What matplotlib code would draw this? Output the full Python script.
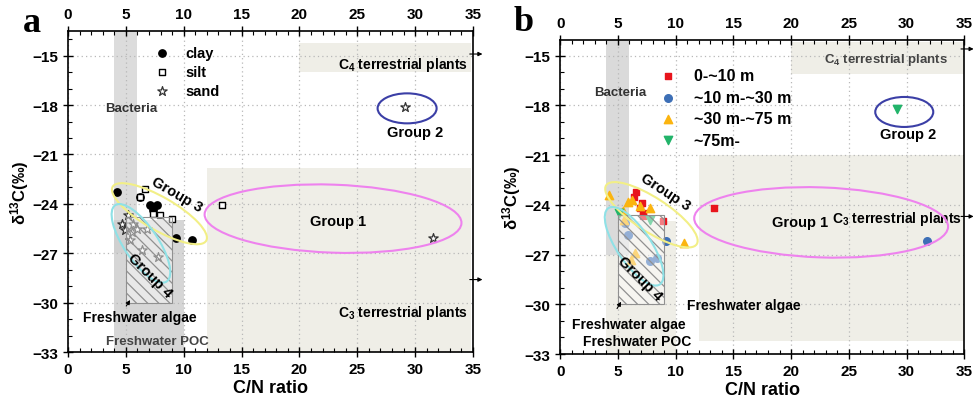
import matplotlib
matplotlib.use("Agg")
import matplotlib.pyplot as plt
from matplotlib.patches import Rectangle, Ellipse
from matplotlib.transforms import ScaledTranslation
from matplotlib.ticker import MultipleLocator

plt.rcParams["font.family"] = ["Liberation Sans", "DejaVu Sans"]
plt.rcParams["font.weight"] = "bold"
plt.rcParams["mathtext.fontset"] = "custom"
plt.rcParams["mathtext.rm"] = "Liberation Sans:bold"
plt.rcParams["mathtext.it"] = "Liberation Sans:bold"
plt.rcParams["mathtext.bf"] = "Liberation Sans:bold"
plt.rcParams["mathtext.default"] = "rm"
plt.rcParams["hatch.linewidth"] = 0.9

# panel a: grain size fractions (C/N ratio, d13C)
clay_cn = [4.2, 6.2, 7.1, 7.7, 7.3, 9.3, 10.7]
clay_d13c = [-23.3, -23.6, -24.1, -24.1, -24.4, -26.1, -26.2]
silt_cn = [6.65, 6.2, 7.3, 7.95, 9.0, 13.3]
silt_d13c = [-23.1, -23.6, -24.6, -24.7, -24.9, -24.1]
sand_cn = [4.65, 5.2, 5.6, 4.9, 5.5, 5.95, 6.8, 5.35, 6.4, 7.8, 29.1, 31.5]
sand_d13c = [-25.2, -24.7, -25.2, -25.6, -25.7, -25.5, -25.5, -26.2, -26.8, -27.2, -18.1, -26.1]

# panel b: water depth classes
d0_cn = [6.6, 6.4, 7.1, 6.9, 7.2, 7.2, 8.9, 13.3]
d0_d13c = [-23.2, -23.5, -23.9, -24.2, -24.5, -24.7, -25.0, -24.2]
d10_cn = [5.6, 5.9, 9.2, 8.4, 7.8, 31.8]
d10_d13c = [-25.1, -25.8, -26.2, -27.2, -27.4, -26.2]
d30_cn = [4.2, 5.9, 6.2, 6.9, 7.8, 5.4, 5.5, 10.7, 6.5, 6.1]
d30_d13c = [-23.4, -23.8, -23.7, -24.1, -24.2, -24.4, -24.9, -26.3, -26.9, -27.3]
d75_cn = [5.1, 7.8, 29.2]
d75_d13c = [-24.5, -24.9, -18.2]

xticks = [0, 5, 10, 15, 20, 25, 30, 35]
yticks = [-33, -30, -27, -24, -21, -18, -15]

beige = "#efeee7"

fig = plt.figure(figsize=(9.76, 4.1), dpi=100)
ax_a = fig.add_axes([0.0697, 0.139, 0.415, 0.783])
ax_b = fig.add_axes([0.574, 0.134, 0.414, 0.766])


def ellipse(ax, cx, cy, w_px, h_px, angle, color):
    tr = fig.dpi_scale_trans + ScaledTranslation(cx, cy, ax.transData)
    e = Ellipse((0, 0), w_px / 100, h_px / 100, angle=angle, transform=tr,
                fill=False, edgecolor=color, lw=1.5, zorder=4)
    ax.add_patch(e)


def setup(ax, ytop):
    ax.set_xlim(0, 35)
    ax.set_ylim(-33, ytop)
    ax.set_xticks(xticks)
    ax.set_yticks(yticks)
    ax.xaxis.set_minor_locator(MultipleLocator(1))
    ax.yaxis.set_minor_locator(MultipleLocator(1))
    ax.tick_params(which="major", direction="inout", length=7, width=1,
                   labelsize=11, top=True, labeltop=True, right=False)
    ax.tick_params(which="minor", direction="in", length=3, width=0.8,
                   top=True, right=False)
    for lab in ax.get_xticklabels() + ax.get_yticklabels():
        lab.set_fontweight("bold")
    ax.grid(True, which="major", ls=(0, (1, 2.5)), color="#b8b8b8", lw=0.9)
    ax.set_axisbelow(True)
    for s in ax.spines.values():
        s.set_linewidth(1.2)
    ax.set_xlabel("C/N ratio", fontsize=13, fontweight="bold", labelpad=2)
    ax.set_ylabel("δ$^{13}$C(‰)", fontsize=12, fontweight="bold", labelpad=1)


def side_arrow(ax, y):
    ax.annotate("", xy=(1.03, y), xycoords=("axes fraction", "data"),
                xytext=(0.985, y), textcoords=("axes fraction", "data"),
                arrowprops=dict(arrowstyle="-|>", color="k", lw=0.8,
                                mutation_scale=6), annotation_clip=False)


# ---------------- panel a ----------------
ax = ax_a
setup(ax, -13.5)
ax.add_patch(Rectangle((4, -27), 2, 13.5, color="#dcdcdc", lw=0, zorder=0.2))
ax.add_patch(Rectangle((4, -33), 6, 8, color="#cfcfcf", alpha=0.85, lw=0, zorder=0.2))
ax.add_patch(Rectangle((12, -33), 22.8, 11.2, color=beige, lw=0, zorder=0.2))
ax.add_patch(Rectangle((20, -16), 14.8, 1.8, color=beige, lw=0, zorder=0.2))
ax.add_patch(Rectangle((5, -30), 4, 5.2, facecolor=(1, 1, 1, 0.45),
                       edgecolor="#909090", hatch="\\\\\\", lw=0.8, zorder=3))

h1 = ax.scatter(clay_cn, clay_d13c, marker="o", s=28, color="k", zorder=2)
h2 = ax.scatter(silt_cn, silt_d13c, marker="s", s=20, facecolor="white",
                edgecolor="k", lw=1, zorder=2)
h3 = ax.scatter(sand_cn, sand_d13c, marker="*", s=50, facecolor="white",
                edgecolor="#333333", lw=0.9, zorder=2)
ax.legend([h1, h2, h3], ["clay", "silt", "sand"], loc="upper left",
          bbox_to_anchor=(0.17, 0.985), frameon=False,
          handletextpad=0.6, labelspacing=0.35, borderpad=0.2,
          prop={"weight": "bold", "size": 10.5})

ellipse(ax, 7.9, -24.6, 108, 33, -30, "#f2ef86")
ellipse(ax, 6.3, -26.4, 92, 34, -56, "#8fe1e6")
ellipse(ax, 22.9, -24.9, 257, 68, -2, "#ee82ee")
ellipse(ax, 29.3, -18.2, 59, 30, 0, "#3b3fa6")

ax.text(5.5, -18.2, "Bacteria", fontsize=9.5, color="#333333", ha="center", va="center")
ax.text(9.4, -23.4, "Group 3", fontsize=10.5, rotation=-30, ha="center", va="center", zorder=5)
ax.text(7.1, -28.3, "Group 4", fontsize=10.5, rotation=-45, ha="center", va="center", zorder=5)
ax.text(23.3, -25.06, "Group 1", fontsize=10.5, ha="center", va="center")
ax.text(30.0, -19.65, "Group 2", fontsize=10.5, ha="center", va="center")
ax.text(34.6, -15.5, "C$_4$ terrestrial plants", fontsize=10, ha="right", va="center")
ax.text(34.6, -30.6, "C$_3$ terrestrial plants", fontsize=10, ha="right", va="center")
ax.text(6.2, -30.9, "Freshwater algae", fontsize=10, ha="center", va="center", zorder=5)
ax.text(7.7, -32.35, "Freshwater POC", fontsize=9.5, color="#444444", ha="center", va="center")
ax.annotate("", xy=(5.5, -29.7), xytext=(4.9, -30.35),
            arrowprops=dict(arrowstyle="-|>", color="k", lw=0.8, mutation_scale=6))
side_arrow(ax, -14.9)
side_arrow(ax, -28.6)
ax.text(-0.09, 1.025, "a", transform=ax.transAxes, fontsize=26, fontweight="bold",
        family="Liberation Serif", ha="center", va="center")

# ---------------- panel b ----------------
ax = ax_b
setup(ax, -14.06)
ax.add_patch(Rectangle((4, -27), 2, 13, color="#dadada", lw=0, zorder=0.2))
ax.add_patch(Rectangle((4, -33), 6, 8, color=beige, lw=0, zorder=0.1))
ax.add_patch(Rectangle((12, -32.2), 23, 11.2, color=beige, lw=0, zorder=0.2))
ax.add_patch(Rectangle((20, -16.1), 15, 1.9, color=beige, lw=0, zorder=0.2))
ax.add_patch(Rectangle((5, -30), 4, 5.4, facecolor=(1, 1, 1, 0.45),
                       edgecolor="#909090", hatch="\\\\\\", lw=0.8, zorder=3))

g1 = ax.scatter(d0_cn, d0_d13c, marker="s", s=24, color="#e8141c", zorder=2)
g2 = ax.scatter(d10_cn, d10_d13c, marker="o", s=30, color="#3d6fb6", zorder=2)
g3 = ax.scatter(d30_cn, d30_d13c, marker="^", s=36, color="#fbb40f", zorder=2)
g4 = ax.scatter(d75_cn, d75_d13c, marker="v", s=36, color="#22b46a", zorder=2)
ax.legend([g1, g2, g3, g4], ["0-~10 m", "~10 m-~30 m", "~30 m-~75 m", "~75m-"],
          loc="upper left", bbox_to_anchor=(0.2, 0.945), frameon=False,
          handletextpad=0.6, labelspacing=0.4, borderpad=0.2,
          prop={"weight": "bold", "size": 11.5})

ellipse(ax, 7.9, -24.6, 108, 34, -33, "#f2ef86")
ellipse(ax, 6.4, -26.5, 92, 34, -56, "#8fe1e6")
ellipse(ax, 22.6, -25.06, 254, 70, -2, "#ee82ee")
ellipse(ax, 29.8, -18.4, 58, 30, 0, "#3b3fa6")

ax.text(5.2, -17.2, "Bacteria", fontsize=9.5, color="#333333", ha="center", va="center")
ax.text(9.1, -23.2, "Group 3", fontsize=10.5, rotation=-33, ha="center", va="center", zorder=5)
ax.text(6.9, -28.4, "Group 4", fontsize=10.5, rotation=-45, ha="center", va="center", zorder=5)
ax.text(20.8, -25.06, "Group 1", fontsize=10.5, ha="center", va="center")
ax.text(30.1, -19.7, "Group 2", fontsize=10.5, ha="center", va="center")
ax.text(29.2, -24.8, "C$_3$ terrestrial plants", fontsize=10, ha="center", va="center")
ax.text(28.2, -15.2, "C$_4$ terrestrial plants", fontsize=9.5, color="#444444", ha="center", va="center")
ax.text(5.9, -31.2, "Freshwater algae", fontsize=10, ha="center", va="center", zorder=5)
ax.text(6.7, -32.2, "Freshwater POC", fontsize=10, ha="center", va="center")
ax.text(15.9, -30.05, "Freshwater algae", fontsize=10, ha="center", va="center")
ax.annotate("", xy=(5.4, -29.7), xytext=(4.8, -30.4),
            arrowprops=dict(arrowstyle="-|>", color="k", lw=0.8, mutation_scale=6))
side_arrow(ax, -14.6)
side_arrow(ax, -24.7)
ax.text(-0.09, 1.06, "b", transform=ax.transAxes, fontsize=26, fontweight="bold",
        family="Liberation Serif", ha="center", va="center")

fig.savefig("out.png", dpi=100)
